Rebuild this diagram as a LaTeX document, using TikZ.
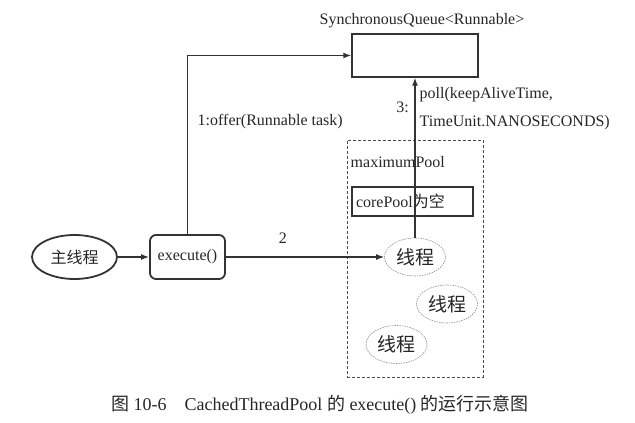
\documentclass[tikz,border=0pt]{standalone}
\usepackage{fontspec}
\setmainfont{Liberation Serif}
\newfontfamily\cjk{Noto Sans CJK SC}
\usetikzlibrary{positioning,shapes.geometric,arrows.meta}

\begin{document}
\begin{tikzpicture}[x=1pt,y=-1pt,>={Latex[length=8pt,width=6pt]},line width=1.4pt,draw=black!80,
	txt/.style={font=\fontsize{16}{18}\selectfont,inner sep=1pt,text=black!85},
	box/.style={draw=black!80,rectangle,inner sep=0pt},
	thread/.style={ellipse,draw=black!45,line width=0.6pt,dash pattern=on 1.5pt off 1pt,minimum width=61pt,minimum height=38pt,inner sep=0pt,text=black!85,font=\cjk\fontsize{19}{20}\selectfont}
	]

	\useasboundingbox (0,0) rectangle (635,423);

	% queue on top
	\node[txt] (qname) at (422,21) {SynchronousQueue<Runnable>};
	\node[box,minimum width=126pt,minimum height=43pt] (queue) at (415,55.5) {};

	% the pool
	\node[box,draw=black!70,line width=0.9pt,densely dashed,minimum width=136pt,minimum height=237pt] (pool) at (415,258.5) {};
	\node[txt,anchor=west] (pname) at (349,162) {maximumPool};
	\node[box,txt,minimum width=121pt,minimum height=29pt,text width=113pt,inner sep=4pt,align=left,line width=1.6pt] (core) at (412.5,201.5) {corePool{\cjk 为空}};

	\node[thread] (t1) at (415,257) {线程};
	\node[thread] (t2) at (447,304) {线程};
	\node[thread] (t3) at (396.5,344.5) {线程};

	% caller side
	\node[ellipse,draw=black!80,line width=1.8pt,minimum width=85pt,minimum height=44pt,inner sep=0pt,text=black!85,font=\cjk\fontsize{16}{17}\selectfont] (main) at (74.5,257) {主线程};
	\node[box,txt,rounded corners=6pt,line width=1.8pt,minimum width=75pt,minimum height=44pt] (exec) at (187.5,257) {execute()};

	\draw[->] (main) -- (exec);
	\draw[->] (exec) -- node[txt,pos=0.36,above=12pt]{2} (t1);
	\draw[->] (exec.north) |- (queue.west);
	\draw[->] (t1.north) -- (t1.north |- queue.south);

	\node[txt,anchor=west] (offer) at (196,122) {1:offer(Runnable task)};
	\node[txt] (step3) at (402.5,107) {3:};
	\node[txt,anchor=west] (poll1) at (418,95) {poll(keepAliveTime,};
	\node[txt,anchor=west] (poll2) at (418,123) {TimeUnit.NANOSECONDS)};

	% caption
	\node[font=\fontsize{18}{20}\selectfont,text=black!85] (cap) at (320,405) {{\cjk 图} 10-6\hspace{1em}CachedThreadPool {\cjk 的} execute() {\cjk 的运行示意图}};

\end{tikzpicture}
\end{document}
